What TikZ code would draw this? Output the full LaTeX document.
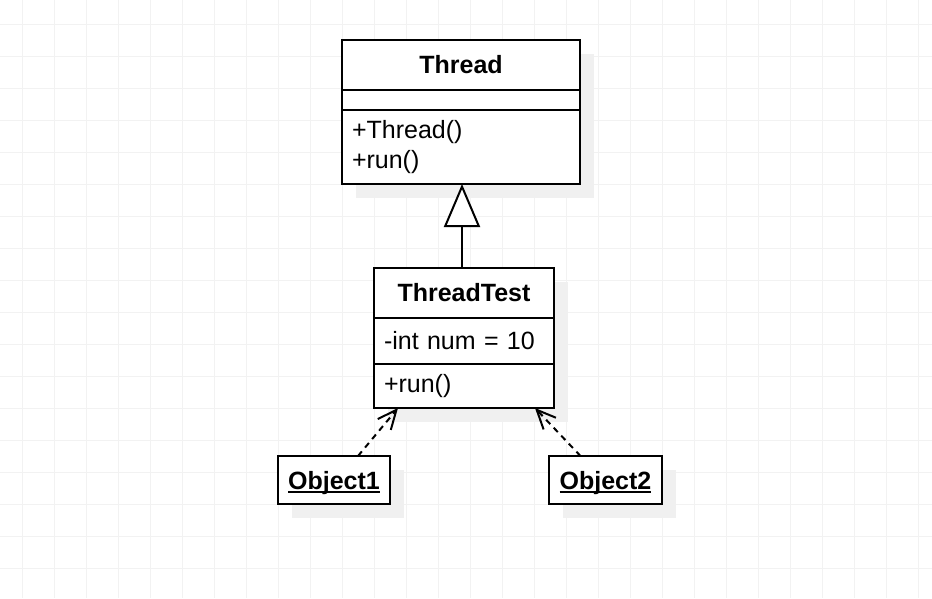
\documentclass[tikz,border=0pt]{standalone}
\usepackage{fontspec}
\setmainfont{Liberation Sans}
\usetikzlibrary{calc,positioning,arrows.meta,backgrounds}
\definecolor{gridgray}{HTML}{F2F2F2}
\definecolor{shadowgray}{HTML}{F0F0F0}
\newlength{\objwidth}
\newcommand{\objtext}[1]{\settowidth{\objwidth}{\textbf{#1}}\textbf{#1}\llap{\rule[-4pt]{\objwidth}{2pt}}}

\begin{document}
\begin{tikzpicture}[x=1pt, y=-1pt, line width=2pt, % 1pt = 1px、yは下向き
  umlbox/.style={draw, fill=white, rectangle, outer sep=0pt, inner sep=0pt, font=\fontsize{25}{30}\selectfont}, % 枠
  umltitle/.style={umlbox, font=\fontsize{25}{30}\selectfont\bfseries}, % クラス名
  umllist/.style={umlbox, align=left, inner xsep=10pt, text width=#1}, % 属性・操作
  objbox/.style={umlbox, minimum height=48pt, text depth=0pt}, % オブジェクト
  gridline/.style={line width=1pt, draw=gridgray}, % 方眼
  inherit/.style={-{Triangle[open, fill=white, length=43pt, width=36pt]}}, % 汎化
  dep/.style={dash pattern=on 6pt off 5pt, -{Straight Barb[length=19pt, width=17pt]}}] % 依存
  \useasboundingbox (0,0) rectangle (932,598); % 画像の大きさ
  \begin{scope}[on background layer]
    \foreach \x in {22,54,...,918} \draw[gridline] (\x,0) -- (\x,598); % 縦線
    \foreach \y in {24,56,...,568} \draw[gridline] (0,\y) -- (932,\y); % 横線
  \end{scope}

  \node[umltitle, minimum width=238pt, minimum height=50pt] (threadname) at (461,65) {Thread}; % Thread
  \node[umlbox, minimum width=238pt, minimum height=20pt, below=0pt of threadname] (threadattr) {};
  \node[umllist=218pt, minimum height=74pt, below=0pt of threadattr] (threadops) {+Thread()\\+run()};

  \node[umltitle, minimum width=180pt, minimum height=50pt] (testname) at (464,293) {ThreadTest}; % ThreadTest
  \node[umllist=160pt, minimum height=46pt, below=0pt of testname] (testattr) {-int num = 10};
  \node[umllist=160pt, minimum height=44pt, below=0pt of testattr] (testops) {+run()};

  \node[objbox, minimum width=112pt] (obj1) at (334,480) {\objtext{Object1}}; % オブジェクト
  \node[objbox, minimum width=113pt] (obj2) at (605.5,480) {\objtext{Object2}};

  \begin{scope}[on background layer] % 影
    \fill[shadowgray] ($(threadname.north west)+(14,14)$) rectangle ($(threadops.south east)+(14,14)$);
    \fill[shadowgray] ($(testname.north west)+(14,14)$) rectangle ($(testops.south east)+(14,14)$);
    \fill[shadowgray] ($(obj1.north west)+(14,14)$) rectangle ($(obj1.south east)+(14,14)$);
    \fill[shadowgray] ($(obj2.north west)+(14,14)$) rectangle ($(obj2.south east)+(14,14)$);
  \end{scope}

  \draw[inherit] ($(testname.north)+(-2,0)$) -- ($(testname.north |- threadops.south)+(-2,0)$); % 継承
  \draw[dep] ($(obj1.north)+(24,0)$) -- ($(testops.south west)+(24,0)$); % 利用
  \draw[dep] ($(obj2.north)+(-25,0)$) -- ($(testops.south east)+(-19,0)$);
\end{tikzpicture}
\end{document}
